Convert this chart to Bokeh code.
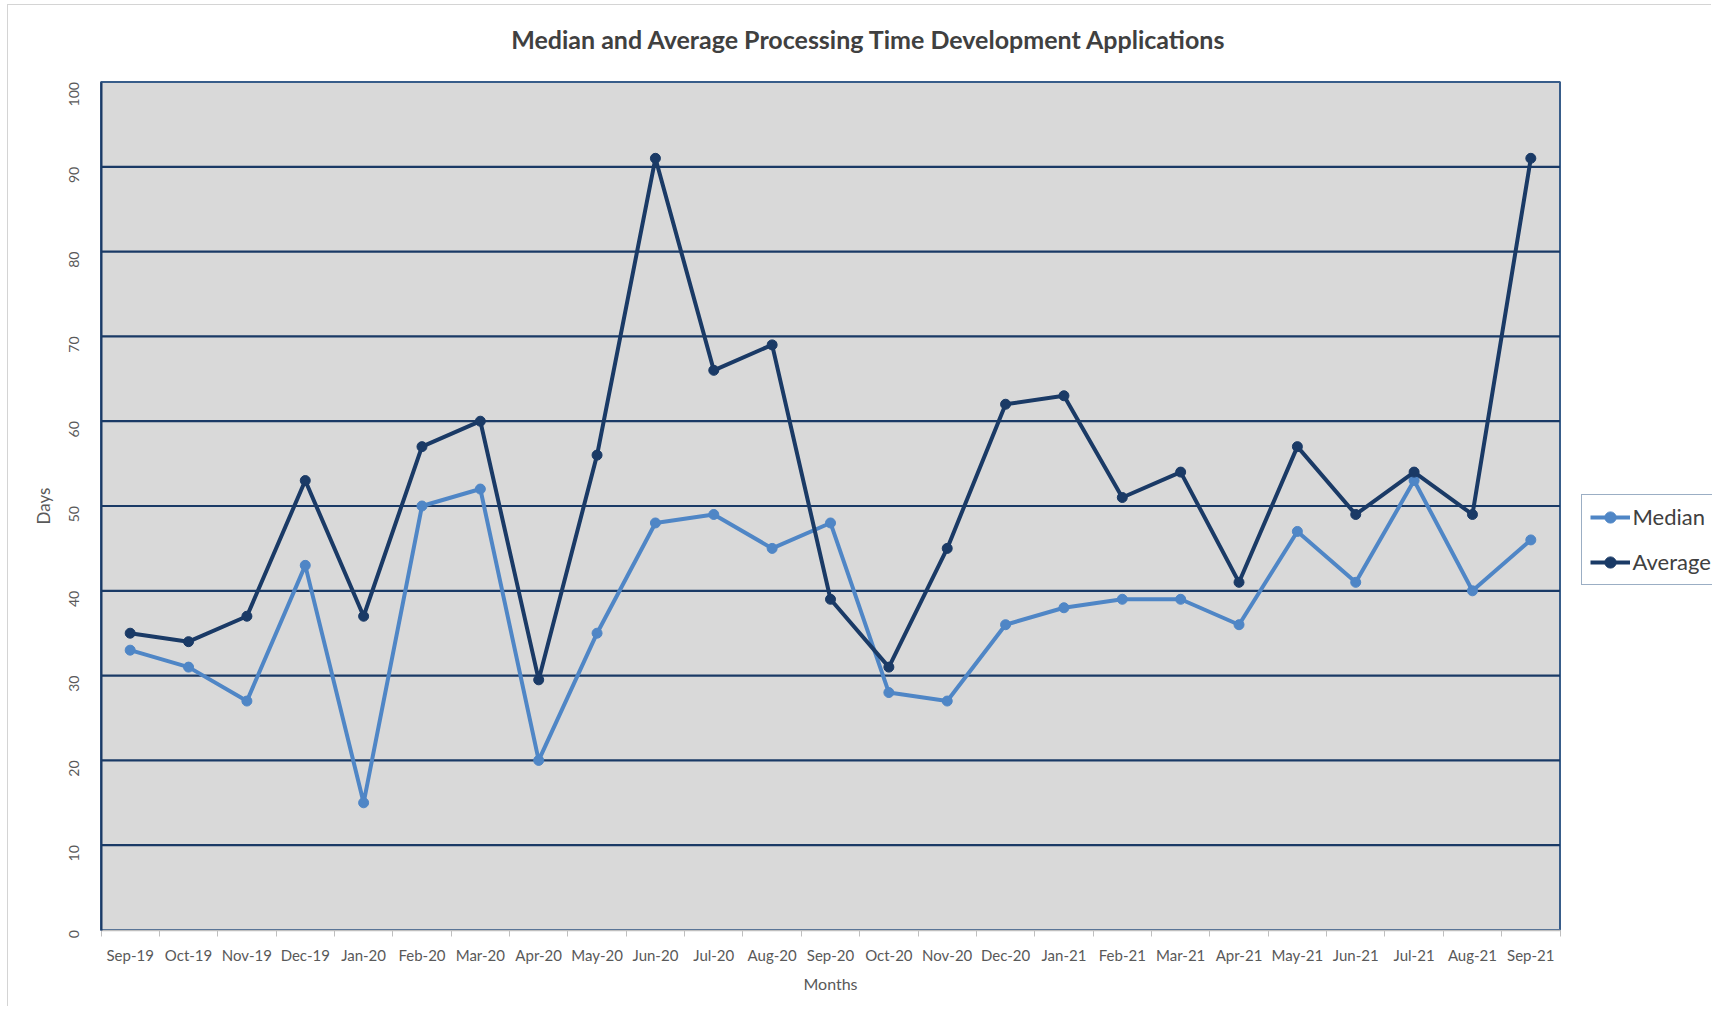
import math
from bokeh.plotting import figure
from bokeh.models import (FixedTicker, Legend, LegendItem, Label,
                          ColumnDataSource, BoxAnnotation)
from bokeh.embed import file_html
from bokeh.resources import INLINE

# ---------------- data ----------------
months = ["Sep-19", "Oct-19", "Nov-19", "Dec-19", "Jan-20", "Feb-20", "Mar-20",
          "Apr-20", "May-20", "Jun-20", "Jul-20", "Aug-20", "Sep-20", "Oct-20",
          "Nov-20", "Dec-20", "Jan-21", "Feb-21", "Mar-21", "Apr-21", "May-21",
          "Jun-21", "Jul-21", "Aug-21", "Sep-21"]
median = [33, 31, 27, 43, 15, 50, 52, 20, 35, 48, 49, 45, 48, 28, 27, 36, 38,
          39, 39, 36, 47, 41, 53, 40, 46]
average = [35, 34, 37, 53, 37, 57, 60, 29.5, 56, 91, 66, 69, 39, 31, 45, 62,
           63, 51, 54, 41, 57, 49, 54, 49, 91]
y_ticks = [0, 10, 20, 30, 40, 50, 60, 70, 80, 90, 100]

title_text = "Median and Average Processing Time Development Applications"
x_title = "Months"
y_title = "Days"

# ---------------- styling / layout (pixels) ----------------
FONT = "Lato"
MED_COLOR = "#4f86c6"
AVG_COLOR = "#1a3a66"
GRID_COLOR = "#1a3a66"
BORDER_COLOR = "#385d8a"
TEXT_COLOR = "#595959"

W, H = 1704, 1002                 # canvas (whole canvas is the frame)
PA_L, PA_R = 92.5, 1551.5         # plot-area edges in canvas px
PA_T, PA_B = 76.5, 924.5

n = len(months)
cat_px = (PA_R - PA_L) / n
y_px = (PA_B - PA_T) / 100.0
x_start = -0.5 - PA_L / cat_px
x_end = (n - 0.5) + (W - PA_R) / cat_px
y_start = 0 - (H - PA_B) / y_px
y_end = 100 + PA_T / y_px

idx = list(range(n))
src = ColumnDataSource(dict(x=idx, month=months, median=median, average=average))

p = figure(width=W, height=H, output_backend="svg", toolbar_location=None,
           x_range=(x_start, x_end), y_range=(y_start, y_end),
           min_border_left=0, min_border_right=0, min_border_top=0,
           min_border_bottom=0,
           styles={"margin-left": "7px", "margin-top": "4px",
                   "border-top": "1.5px solid #d4d4d4",
                   "border-left": "1.5px solid #d4d4d4"})

p.background_fill_color = "white"
p.border_fill_color = "white"
p.outline_line_color = None
p.xgrid.grid_line_color = None
p.ygrid.grid_line_color = None

# gray plot area with navy border
p.add_layout(BoxAnnotation(left=-0.5, right=n - 0.5, bottom=0, top=100,
                           fill_color="#d9d9d9", fill_alpha=1,
                           line_color=BORDER_COLOR, line_alpha=1, line_width=2,
                           level="image"))

# horizontal gridlines inside the plot area
grid_vals = y_ticks[1:-1]
p.segment(x0=[-0.5] * len(grid_vals), x1=[n - 0.5] * len(grid_vals),
          y0=grid_vals, y1=grid_vals, line_color=GRID_COLOR, line_width=2.2,
          level="underlay")

# x axis (month categories, ticks between categories)
xa = p.xaxis[0]
xa.fixed_location = 0
xa.bounds = (-0.5, n - 0.5)
xa.ticker = FixedTicker(ticks=idx, minor_ticks=[i - 0.5 for i in range(n + 1)])
xa.major_label_overrides = {i: m for i, m in zip(idx, months)}
xa.major_tick_out = 0
xa.major_tick_in = 0
xa.minor_tick_out = 6
xa.minor_tick_in = 0
xa.minor_tick_line_color = "#bfbfbf"
xa.axis_line_color = "#bfbfbf"
xa.axis_line_width = 1.5
xa.major_label_text_font = FONT
xa.major_label_text_font_size = "15px"
xa.major_label_text_color = TEXT_COLOR
xa.major_label_standoff = 10

# y axis
ya = p.yaxis[0]
ya.fixed_location = -0.5
ya.bounds = (0, 100)
ya.ticker = FixedTicker(ticks=y_ticks)
ya.major_label_orientation = math.pi / 2
ya.major_tick_out = 0
ya.major_tick_in = 0
ya.minor_tick_out = 0
ya.minor_tick_in = 0
ya.axis_line_color = GRID_COLOR
ya.axis_line_width = 2
ya.major_label_text_font = FONT
ya.major_label_text_font_size = "14px"
ya.major_label_text_color = TEXT_COLOR
ya.major_label_standoff = 27

# series
l1 = p.line("x", "median", source=src, line_color=MED_COLOR, line_width=4)
s1 = p.scatter("x", "median", source=src, size=10, fill_color=MED_COLOR,
               line_color=MED_COLOR)
l2 = p.line("x", "average", source=src, line_color=AVG_COLOR, line_width=4)
s2 = p.scatter("x", "average", source=src, size=10, fill_color=AVG_COLOR,
               line_color=AVG_COLOR)

# legend (partly outside the right edge, as in the original)
legend = Legend(items=[LegendItem(label="Median", renderers=[l1, s1]),
                       LegendItem(label="Average", renderers=[l2, s2])],
                location=(1572.5, H - 579.5))
legend.border_line_color = BORDER_COLOR
legend.border_line_width = 1.5
legend.background_fill_color = "white"
legend.background_fill_alpha = 1
legend.label_text_font = FONT
legend.label_text_font_size = "22px"
legend.label_text_color = "#404040"
legend.glyph_width = 40
legend.glyph_height = 28
legend.label_height = 28
legend.label_standoff = 3
legend.spacing = 17
legend.padding = 8
legend.margin = 0
p.add_layout(legend)

# texts
p.add_layout(Label(x=860.5, y=H - 33.9, x_units="screen", y_units="screen",
                   text=title_text, text_font=FONT, text_font_size="25px",
                   text_font_style="bold", text_color="#404040",
                   text_align="center", text_baseline="middle"))
p.add_layout(Label(x=(PA_L + PA_R) / 2, y=H - 977.5, x_units="screen",
                   y_units="screen", text=x_title, text_font=FONT,
                   text_font_size="16px", text_color=TEXT_COLOR,
                   text_align="center", text_baseline="middle"))
p.add_layout(Label(x=34.5, y=H - (PA_T + PA_B) / 2, x_units="screen",
                   y_units="screen", text=y_title, text_font=FONT,
                   text_font_size="17px", text_color=TEXT_COLOR,
                   angle=math.pi / 2, text_align="center",
                   text_baseline="middle"))

open("out.html", "w").write(file_html(p, INLINE))
